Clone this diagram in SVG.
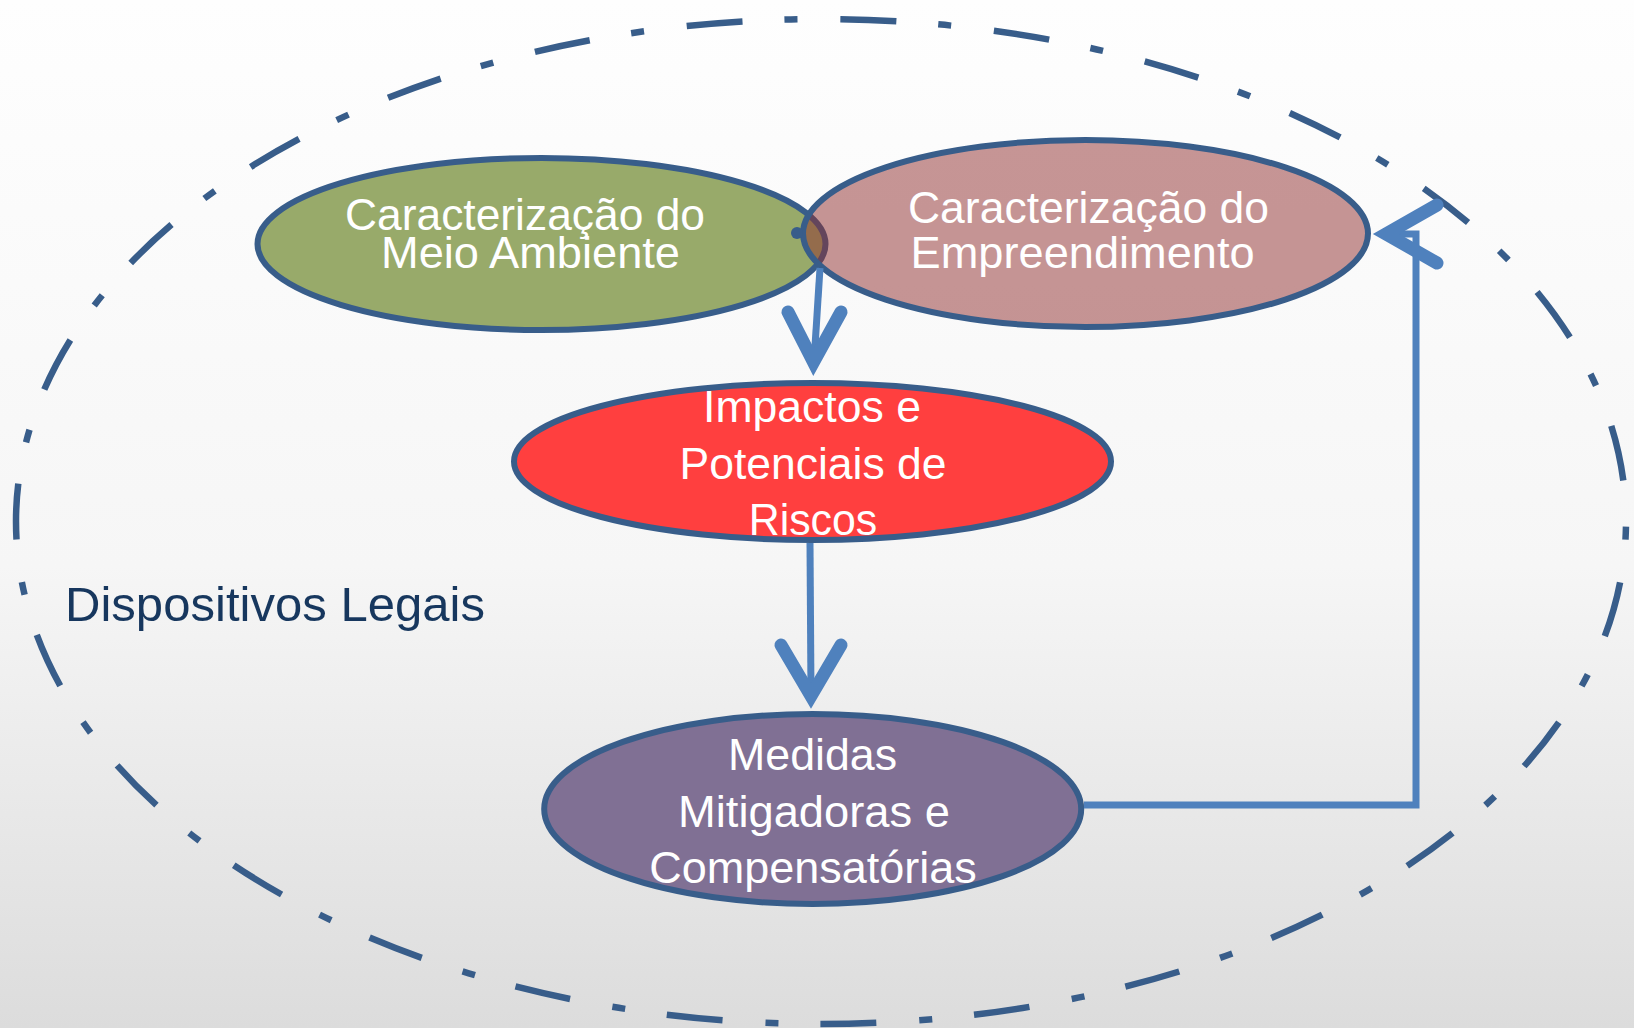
<svg xmlns="http://www.w3.org/2000/svg" width="1634" height="1028" viewBox="0 0 1634 1028">
  <defs>
    <linearGradient id="bg" x1="0" y1="0" x2="0" y2="1">
      <stop offset="0" stop-color="#fefefe"/>
      <stop offset="0.55" stop-color="#f6f6f6"/>
      <stop offset="1" stop-color="#dcdcdc"/>
    </linearGradient>
  </defs>
  <style>
    .node { stroke: #385d8a; stroke-width: 6; }
    .lbl { font-family: "Liberation Sans", Arial, sans-serif; font-size: 44px; fill: #ffffff; text-anchor: middle; }
    .line { fill: none; stroke: #4f81bd; stroke-width: 7; }
    .head { fill: none; stroke: #4f81bd; stroke-width: 13; stroke-linecap: round; stroke-linejoin: miter; stroke-miterlimit: 10; }
  </style>
  <rect x="0" y="0" width="1634" height="1028" fill="url(#bg)"/>

  <g id="boundary">
    <path d="M 1626 521.5 A 805 502.5 0 0 1 821 1024 A 805 502.5 0 0 1 16 521.5 A 805 502.5 0 0 1 821 19 A 805 502.5 0 0 1 1626 521.5 Z" fill="none" stroke="#385d8a" stroke-width="6.5" stroke-dasharray="56 42 13 43" stroke-dashoffset="92.8"/>
    <text x="65" y="621" font-family="'Liberation Sans', Arial, sans-serif" font-size="49" fill="#17375e" textLength="420" lengthAdjust="spacingAndGlyphs">Dispositivos Legais</text>
  </g>

  <g id="node-meio-ambiente">
    <ellipse class="node" cx="541.5" cy="244" rx="284" ry="86" fill="#98aa6a"/>
  </g>
  <g id="node-empreendimento">
    <ellipse class="node" cx="1085.5" cy="233.5" rx="282.5" ry="93.5" fill="rgb(143,45,45)" fill-opacity="0.5"/>
  </g>
  <g id="node-impactos">
    <ellipse class="node" cx="812.5" cy="461.5" rx="298.5" ry="78.5" fill="#ff3f3f"/>
  </g>
  <g id="node-medidas">
    <ellipse class="node" cx="812.7" cy="809" rx="268.5" ry="95" fill="#807094"/>
  </g>

  <g id="connectors">
    <circle cx="797" cy="233" r="6" fill="#385d8a"/>
    <path class="line" d="M 820 268 L 814 362"/>
    <polyline class="head" points="788,312 813.5,362 841,312"/>
    <path class="line" d="M 810 543 L 811 696"/>
    <polyline class="head" points="781,645 811,696 841,645"/>
    <path class="line" d="M 1084 805 H 1416 V 234 H 1390"/>
    <polyline class="head" points="1437,205 1386,234 1437,263"/>
  </g>

  <g id="labels">
    <text class="lbl" x="525" y="230" textLength="360" lengthAdjust="spacingAndGlyphs">Caracterização do</text>
    <text class="lbl" x="530.5" y="267.7" textLength="299" lengthAdjust="spacingAndGlyphs">Meio Ambiente</text>
    <text class="lbl" x="1088.5" y="222.7" textLength="361" lengthAdjust="spacingAndGlyphs">Caracterização do</text>
    <text class="lbl" x="1082.6" y="267.7" textLength="344" lengthAdjust="spacingAndGlyphs">Empreendimento</text>
    <text class="lbl" x="812" y="421.7" textLength="218" lengthAdjust="spacingAndGlyphs">Impactos e</text>
    <text class="lbl" x="813" y="479" textLength="267" lengthAdjust="spacingAndGlyphs">Potenciais de</text>
    <text class="lbl" x="813" y="535" textLength="128.5" lengthAdjust="spacingAndGlyphs">Riscos</text>
    <text class="lbl" x="812.6" y="770" textLength="169" lengthAdjust="spacingAndGlyphs">Medidas</text>
    <text class="lbl" x="814" y="826.7" textLength="272" lengthAdjust="spacingAndGlyphs">Mitigadoras e</text>
    <text class="lbl" x="813" y="883" textLength="327.6" lengthAdjust="spacingAndGlyphs">Compensatórias</text>
  </g>
</svg>
